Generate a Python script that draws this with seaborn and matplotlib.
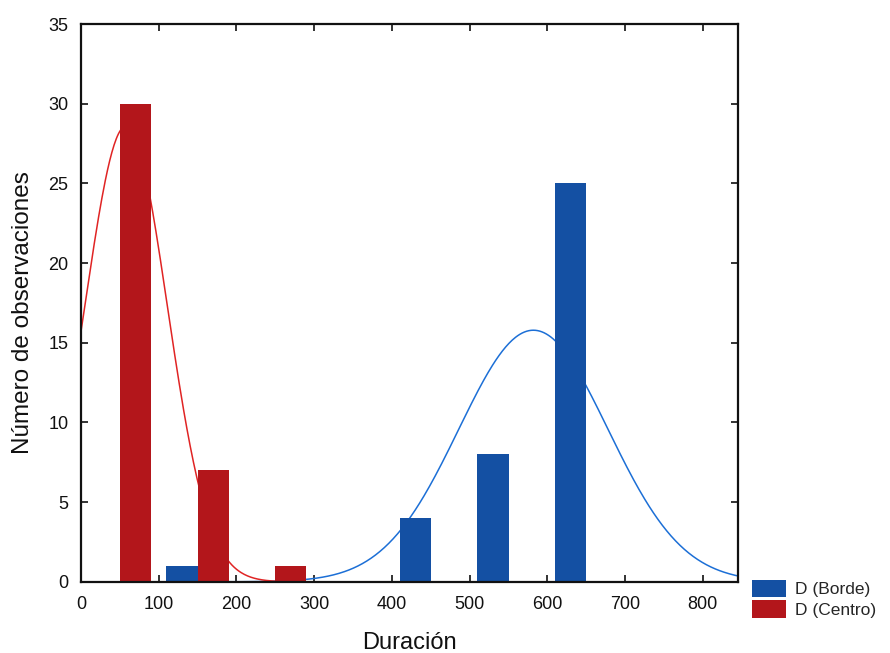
import numpy as np
import pandas as pd
import matplotlib
matplotlib.use("Agg")
import matplotlib.pyplot as plt
from matplotlib.patches import Patch
import seaborn as sns

# ---- data ----
bins = [100, 200, 300, 400, 500, 600]
borde = [1, 0, 0, 4, 8, 25]
centro = [30, 7, 1, 0, 0, 0]
series_names = ["D (Borde)", "D (Centro)"]
# fitted normal curves (mean, sd) ; counts scaled by N * bin width
borde_mu, borde_sd = 582, 96
centro_mu, centro_sd = 58, 53
bin_width = 100

colors = {"D (Borde)": "#1450a3", "D (Centro)": "#b3161b"}
curve_colors = {"D (Borde)": "#1c6fd6", "D (Centro)": "#e02424"}

sns.set_theme(style="white")
plt.rcParams["font.family"] = ["Liberation Sans", "DejaVu Sans"]

df = pd.DataFrame({
    "bin": bins * 2,
    "count": borde + centro,
    "serie": [series_names[0]] * len(bins) + [series_names[1]] * len(bins),
})

fig = plt.figure(figsize=(8.9, 6.53), dpi=100)
ax = fig.add_axes([0.091, 0.109, 0.738, 0.854])

xs = np.linspace(0, 850, 600)
for name, mu, sd, vals in [("D (Borde)", borde_mu, borde_sd, borde),
                           ("D (Centro)", centro_mu, centro_sd, centro)]:
    n = sum(vals)
    ys = n * bin_width / (sd * np.sqrt(2 * np.pi)) * np.exp(-(xs - mu) ** 2 / (2 * sd ** 2))
    sns.lineplot(x=xs, y=ys, color=curve_colors[name], linewidth=1.1, ax=ax, zorder=1)

sns.barplot(data=df, x="bin", y="count", hue="serie",
            hue_order=["D (Centro)", "D (Borde)"],
            palette=colors, native_scale=True, width=1.2, gap=1/3,
            linewidth=0, saturation=1, legend=False, ax=ax, zorder=2)

ax.set_xlim(0, 845)
ax.set_ylim(0, 35)
ax.set_xticks([0, 100, 200, 300, 400, 500, 600, 700, 800])
ax.set_yticks([0, 5, 10, 15, 20, 25, 30, 35])
ax.tick_params(direction="in", length=5, width=1.2, labelsize=13,
               top=True, right=True, bottom=True, left=True, colors="#111111")
ax.tick_params(axis="x", pad=10)
ax.tick_params(axis="y", pad=9)
for s in ax.spines.values():
    s.set_visible(True)
    s.set_color("#111111")
    s.set_linewidth(1.6)
ax.set_xlabel("Duración", fontsize=17, labelpad=14, color="#111111")
ax.set_ylabel("Número de observaciones", fontsize=17.5, labelpad=10, color="#111111")
ax.yaxis.label.set_y(0.482)

handles = [Patch(facecolor=colors[n], edgecolor="none", label=n) for n in series_names]
fig.legend(handles=handles, loc="lower left", bbox_to_anchor=(0.831, 0.035),
           frameon=False, fontsize=12.5, handlelength=2.0, handleheight=1.15,
           handletextpad=0.5, labelspacing=0.2, borderpad=0.2)

fig.savefig("out.png", dpi=100)
